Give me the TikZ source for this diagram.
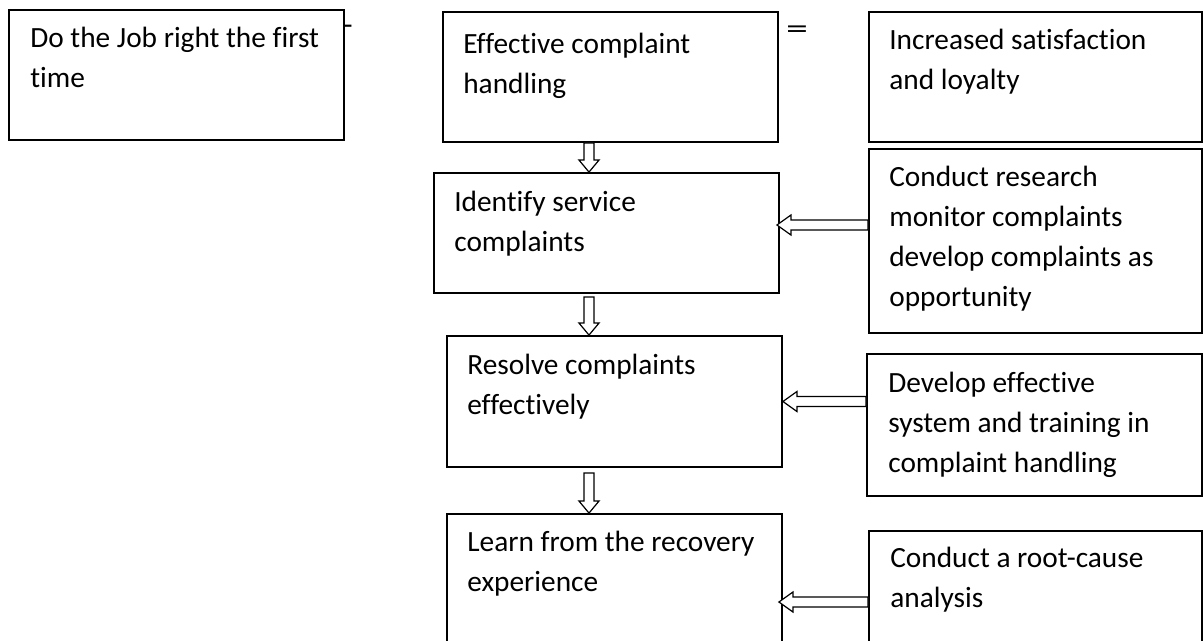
\documentclass[tikz,border=0pt]{standalone}
\usepackage{fontspec}
\setmainfont{Carlito}[Ligatures=NoCommon]
\usetikzlibrary{positioning,calc}

% hollow block arrows, pointing down / pointing left
\newcommand{\downblock}[2]{%
  \draw[hollow] let \p1=(#1), \p2=(#2) in
    (\x1-3.75pt,\y1) -- (\x1-3.75pt,\y2+9pt) -- (\x1-7.5pt,\y2+9pt) -- (\x1,\y2)
    -- (\x1+7.5pt,\y2+9pt) -- (\x1+3.75pt,\y2+9pt) -- (\x1+3.75pt,\y1) -- cycle;}
\newcommand{\leftblock}[2]{%
  \draw[hollow] let \p1=(#1), \p2=(#2) in
    (\x1,\y2-3.75pt) -- (\x2+10.5pt,\y2-3.75pt) -- (\x2+10.5pt,\y2-7.5pt) -- (\x2,\y2)
    -- (\x2+10.5pt,\y2+7.5pt) -- (\x2+10.5pt,\y2+3.75pt) -- (\x1,\y2+3.75pt) -- cycle;}
% lines of a box text, baseline at the first line
\newcommand{\lines}[1]{\begin{tabular}[t]{@{}l@{}}#1\end{tabular}}

\begin{document}
\begin{tikzpicture}[
      x=0.75pt, y=-0.75pt,
      box/.style={draw, line width=1.4pt, rectangle, inner sep=0pt},
      words/.style={anchor=base west, inner sep=0pt,
        font=\fontsize{22pt}{30pt}\selectfont},
      hollow/.style={draw, fill=white, line width=0.9pt, line join=miter}]

    \useasboundingbox (0,0) rectangle (1203,640);
    \clip (0,0) rectangle (1203,640);

    % boxes
    \node[box] (jobbox) at (176.5,75) [minimum width=251.25pt, minimum height=97.5pt] {};
    \node[box] (effbox) at (610.5,77) [minimum width=251.25pt, minimum height=97.5pt] {};
    \node[box] (satbox) at (1035.5,77) [minimum width=249.75pt, minimum height=97.5pt] {};
    \node[box] (resbox) at (1035.5,241) [minimum width=249.75pt, minimum height=138pt] {};
    \node[box] (idbox) at (606.5,233) [minimum width=258.75pt, minimum height=90pt] {};
    \node[box] (solvebox) at (614.5,401.5) [minimum width=251.25pt, minimum height=98.25pt] {};
    \node[box] (devbox) at (1034.5,425) [minimum width=251.25pt, minimum height=106.5pt] {};
    \node[box] (learnbox) at (614.5,587) [minimum width=251.25pt, minimum height=109.5pt] {};
    \node[box] (rootbox) at (1035.5,595.5) [minimum width=249.75pt, minimum height=96.75pt] {};

    % texts
    \node[words] (jobtext) at ($(jobbox.north west)+(22,38)$) {\lines{Do the Job right the first\\time}};
    \node[words] (efftext) at ($(effbox.north west)+(21,42)$) {\lines{Effective complaint\\handling}};
    \node[words] (sattext) at ($(satbox.north west)+(21,38)$) {\lines{Increased satisfaction\\and loyalty}};
    \node[words] (restext) at ($(resbox.north west)+(21,38)$) {\lines{Conduct research\\monitor complaints\\develop complaints as\\opportunity}};
    \node[words] (idtext) at ($(idbox.north west)+(21,39)$) {\lines{Identify service\\complaints}};
    \node[words] (solvetext) at ($(solvebox.north west)+(21,39)$) {\lines{Resolve complaints\\effectively}};
    \node[words] (devtext) at ($(devbox.north west)+(22,39)$) {\lines{Develop effective\\system and training in\\complaint handling}};
    \node[words] (learntext) at ($(learnbox.north west)+(21,38)$) {\lines{Learn from the recovery\\experience}};
    \node[words] (roottext) at ($(rootbox.north west)+(22,37)$) {\lines{Conduct a root-cause\\analysis}};

    % stray marks
    \node[anchor=base, inner sep=0pt, font=\fontsize{22pt}{30pt}\selectfont] (dash) at (348,34) {-};
    \node[anchor=center, inner sep=0pt, xscale=1.5, font=\fontsize{22pt}{30pt}\selectfont] (eq) at (797,32) {=};

    % arrows down the middle column
    \coordinate (col) at (589,0);
    \downblock{effbox.south -| col}{idbox.north -| col}
    \downblock{$(idbox.south -| col)+(0,3)$}{solvebox.north -| col}
    \downblock{$(solvebox.south -| col)+(0,5)$}{learnbox.north -| col}

    % arrows from the right column
    \leftblock{resbox.west}{$(idbox.east)+(-3,-8)$}
    \leftblock{devbox.west}{solvebox.east}
    \leftblock{rootbox.west}{$(learnbox.east)+(-4,15)$}
\end{tikzpicture}
\end{document}
